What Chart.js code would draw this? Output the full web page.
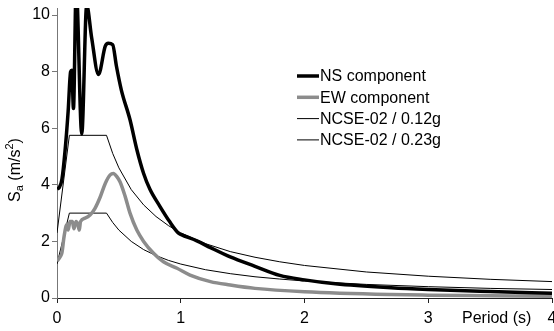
<!DOCTYPE html>
<html>
<head>
<meta charset="utf-8">
<script src="https://cdn.jsdelivr.net/npm/chart.js@4/dist/chart.umd.min.js"></script>
<style>
  html, body { margin: 0; padding: 0; background: #fff; }
  canvas { display: block; }
</style>
</head>
<body>
<canvas id="spectra" width="554" height="331"></canvas>
<script>
// spectra (period in s, Sa in m/s2)
const nsPeriods = [0, 0.02, 0.04, 0.065, 0.09, 0.11, 0.12, 0.133, 0.155, 0.2, 0.24, 0.28, 0.335, 0.39, 0.415, 0.45, 0.48, 0.52, 0.59, 0.645, 0.7, 0.75, 0.83, 0.91, 0.98, 1.0, 1.13, 1.24, 1.4, 1.6, 1.8, 2.0, 2.25, 2.7, 3.0, 3.5, 4.0];
const nsValues = [3.85, 3.92, 4.2, 5.2, 6.6, 8.0, 8.05, 6.7, 11.0, 5.8, 10.35, 9.2, 7.9, 8.9, 9.0, 8.95, 8.2, 7.35, 6.3, 5.25, 4.4, 3.85, 3.25, 2.7, 2.3, 2.25, 2.02, 1.78, 1.45, 1.12, 0.8, 0.64, 0.5, 0.36, 0.3, 0.23, 0.17];

const ewPeriods = [0, 0.025, 0.04, 0.057, 0.08, 0.09, 0.105, 0.124, 0.137, 0.154, 0.17, 0.18, 0.19, 0.227, 0.267, 0.307, 0.35, 0.39, 0.43, 0.455, 0.485, 0.51, 0.55, 0.59, 0.645, 0.7, 0.78, 0.86, 0.97, 1.075, 1.24, 1.4, 1.6, 2.0, 2.7, 3.0, 3.5, 4.0];
const ewValues = [1.3, 1.45, 1.6, 2.17, 2.6, 2.4, 2.7, 2.7, 2.45, 2.7, 2.58, 2.4, 2.7, 2.82, 2.93, 3.17, 3.58, 4.05, 4.35, 4.4, 4.28, 4.1, 3.6, 3.0, 2.4, 2.0, 1.58, 1.28, 1.05, 0.81, 0.58, 0.46, 0.34, 0.22, 0.12, 0.1, 0.08, 0.06];

const codePeriods = [0, 0.1, 0.4, 0.45, 0.5, 0.6, 0.7, 0.8, 0.9, 1.0, 1.2, 1.4, 1.6, 1.8, 2.0, 2.5, 3.0, 3.5, 4.0];
const code012Values = [1.2, 3.0, 3.0, 2.67, 2.4, 2.0, 1.71, 1.5, 1.33, 1.2, 1.0, 0.86, 0.75, 0.67, 0.6, 0.48, 0.4, 0.34, 0.3];
const code023Values = [2.3, 5.75, 5.75, 5.11, 4.6, 3.83, 3.29, 2.88, 2.56, 2.3, 1.92, 1.64, 1.44, 1.28, 1.15, 0.92, 0.77, 0.66, 0.58];

const seriesLabels = ["NS component", "EW component", "NCSE-02 / 0.12g", "NCSE-02 / 0.23g"];
const xTicks = [0, 1, 2, 3, 4];
const yTicks = [0, 2, 4, 6, 8, 10];

const FONT = "'Liberation Sans', Arial, sans-serif";

function pairs(xs, ys) {
  return xs.map((x, i) => ({ x: x, y: ys[i] }));
}

// legend and axis titles drawn by hand, the way the original sits them
const extras = {
  id: "extras",
  afterDraw(chart) {
    const ctx = chart.ctx;
    ctx.save();

    // legend
    ctx.font = "16px " + FONT;
    ctx.textBaseline = "middle";
    ctx.fillStyle = "#000";
    chart.data.datasets.forEach((ds, i) => {
      const y = 76 + i * 21.3;
      ctx.beginPath();
      ctx.strokeStyle = ds.borderColor;
      ctx.lineWidth = ds.borderWidth;
      ctx.moveTo(297, y);
      ctx.lineTo(319, y);
      ctx.stroke();
      ctx.fillText(ds.label, 320, y + 1);
    });

    // x title, on the tick label row
    ctx.fillText("Period (s)", 462, 319);

    // y title  S_a (m/s^2)
    ctx.translate(16, 170);
    ctx.rotate(-Math.PI / 2);
    const big = "16px " + FONT, small = "11px " + FONT;
    const parts = [
      { t: "S", f: big, dy: 0 },
      { t: "a", f: small, dy: 4 },
      { t: " (m/s", f: big, dy: 0 },
      { t: "2", f: small, dy: -6 },
      { t: ")", f: big, dy: 0 }
    ];
    let w = 0;
    parts.forEach(p => { ctx.font = p.f; w += ctx.measureText(p.t).width; });
    let x = -w / 2;
    ctx.textBaseline = "middle";
    parts.forEach(p => {
      ctx.font = p.f;
      ctx.fillText(p.t, x, p.dy);
      x += ctx.measureText(p.t).width;
    });
    ctx.restore();
  }
};

const ctx = document.getElementById("spectra").getContext("2d");

new Chart(ctx, {
  type: "line",
  data: {
    datasets: [
      {
        label: seriesLabels[0],
        data: pairs(nsPeriods, nsValues),
        borderColor: "#000",
        borderWidth: 3.5,
        cubicInterpolationMode: "monotone"
      },
      {
        label: seriesLabels[1],
        data: pairs(ewPeriods, ewValues),
        borderColor: "#8c8c8c",
        borderWidth: 3.5,
        cubicInterpolationMode: "monotone"
      },
      {
        label: seriesLabels[2],
        data: pairs(codePeriods, code012Values),
        borderColor: "#000",
        borderWidth: 1,
        tension: 0
      },
      {
        label: seriesLabels[3],
        data: pairs(codePeriods, code023Values),
        borderColor: "#000",
        borderWidth: 1,
        tension: 0
      }
    ]
  },
  options: {
    responsive: false,
    devicePixelRatio: 1,
    animation: false,
    elements: { point: { radius: 0 } },
    layout: { padding: { top: 8, right: 2, left: 0, bottom: 0 } },
    plugins: {
      legend: { display: false },
      tooltip: { enabled: false }
    },
    scales: {
      x: {
        type: "linear",
        min: 0,
        max: 4,
        afterBuildTicks: s => { s.ticks = xTicks.map(v => ({ value: v })); },
        afterFit: s => { s.height = 33; s.paddingRight = 0; s.paddingLeft = 0; },
        grid: { drawOnChartArea: false, drawTicks: true, tickLength: 5, color: "#222" },
        border: { color: "#222", width: 1 },
        ticks: { color: "#000", padding: 6, maxRotation: 0, font: { size: 16, family: FONT } }
      },
      y: {
        min: 0,
        max: 10.25,
        afterBuildTicks: s => { s.ticks = yTicks.map(v => ({ value: v })); },
        afterFit: s => { s.width = 57; s.paddingTop = 0; s.paddingBottom = 0; },
        grid: { drawOnChartArea: false, drawTicks: true, tickLength: 5, color: "#777" },
        border: { color: "#777", width: 1 },
        ticks: { color: "#000", padding: 2, font: { size: 16, family: FONT } }
      }
    }
  },
  plugins: [extras]
});
</script>
</body>
</html>
